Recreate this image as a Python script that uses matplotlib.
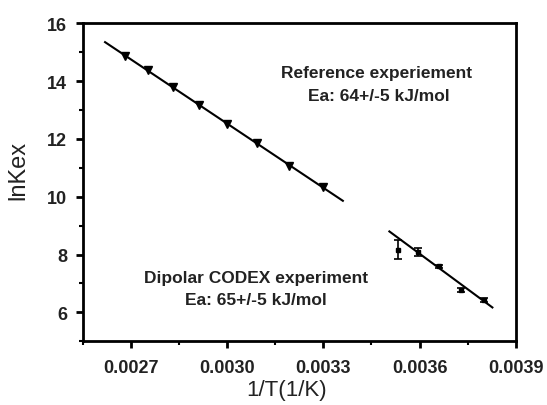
import matplotlib.pyplot as plt
import numpy as np

plt.rcParams['font.family'] = ['Liberation Sans', 'DejaVu Sans']

# Reference experiment (triangles)
ref_x = [0.002681, 0.002754, 0.002831, 0.002914, 0.003000, 0.003093, 0.003192, 0.003298]
ref_y = [14.87, 14.40, 13.81, 13.19, 12.53, 11.87, 11.06, 10.35]
ref_fit_x = [0.00262, 0.003361]
ref_fit_y = [15.35, 9.86]

# Dipolar CODEX experiment (squares with error bars)
dip_x = [0.003532, 0.003595, 0.003660, 0.003730, 0.003801]
dip_y = [8.16, 8.10, 7.59, 6.78, 6.43]
dip_err = [0.33, 0.14, 0.05, 0.08, 0.06]
dip_fit_x = [0.003506, 0.003827]
dip_fit_y = [8.80, 6.17]

x_ticks = [0.0027, 0.0030, 0.0033, 0.0036, 0.0039]
y_ticks = [6, 8, 10, 12, 14, 16]

fig = plt.figure(figsize=(5.47, 4.06), dpi=100)
ax = fig.add_axes([0.151, 0.157, 0.792, 0.783])

# 拟合直线
ax.plot(ref_fit_x, ref_fit_y, color='black', lw=1.5)
ax.plot(dip_fit_x, dip_fit_y, color='black', lw=1.5)

# 数据点
ax.plot(ref_x, ref_y, 'v', color='black', ms=5.5)
ax.errorbar(dip_x, dip_y, yerr=dip_err, fmt='s', color='black', ms=3.5,
            capsize=3, elinewidth=1.2, capthick=1.2)

ax.text(0.003466, 14.29, 'Reference experiement', ha='center', va='center',
        fontsize=12.5, fontweight='bold', color='#222222')
ax.text(0.003472, 13.51, 'Ea: 64+/-5 kJ/mol', ha='center', va='center',
        fontsize=12.5, fontweight='bold', color='#222222')
ax.text(0.003091, 7.21, 'Dipolar CODEX experiment', ha='center', va='center',
        fontsize=12.5, fontweight='bold', color='#222222')
ax.text(0.003091, 6.43, 'Ea: 65+/-5 kJ/mol', ha='center', va='center',
        fontsize=12.5, fontweight='bold', color='#222222')

ax.set_xlim(0.00255, 0.0039)
ax.set_ylim(5, 16)
ax.set_xticks(x_ticks)
ax.set_xticklabels(['%.4f' % v for v in x_ticks])
ax.set_yticks(y_ticks)
ax.set_xticks(np.arange(0.00255, 0.0039, 0.0003), minor=True)
ax.set_yticks(np.arange(5, 16, 2), minor=True)

for s in ax.spines.values():
    s.set_linewidth(2)
ax.tick_params(which='major', direction='out', length=5, width=2,
               labelsize=13, pad=6, top=False, right=False)
ax.tick_params(axis='x', which='major', pad=8)
ax.tick_params(which='minor', direction='out', length=3, width=1.5,
               top=False, right=False)
for lab in ax.get_xticklabels() + ax.get_yticklabels():
    lab.set_fontweight('bold')
    lab.set_color('#222222')

ax.set_xlabel('1/T(1/K)', fontsize=16, labelpad=3, color='#222222')
ax.xaxis.set_label_coords(0.471, -0.12)
ax.set_ylabel('lnKex', fontsize=17, color='#222222')
ax.yaxis.set_label_coords(-0.122, 0.54)

fig.savefig('out.png', dpi=100)
